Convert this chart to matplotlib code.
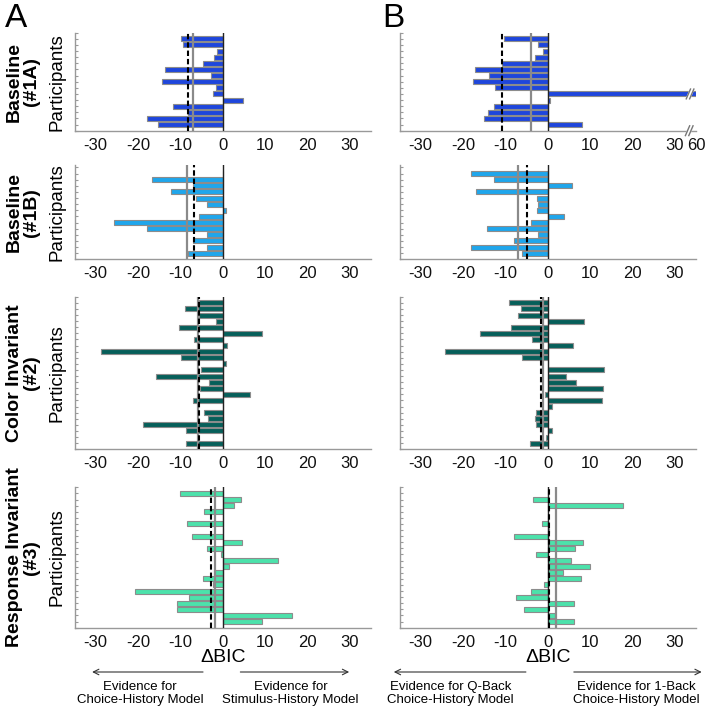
import matplotlib
matplotlib.use('Agg')
import matplotlib.pyplot as plt
import numpy as np

plt.rcParams['font.family'] = ['Liberation Sans', 'DejaVu Sans']

# delta BIC per participant, listed from the top row down
a_1a = [-9.9, -9.3, -1.3, -2.0, -4.7, -13.6, -2.7, -14.4, -1.6, -2.4, 4.7, -11.7, -8.1, -17.8, -15.2]
a_1b = [0.0, -16.8, -7.1, -12.1, -6.3, -3.8, 0.7, -5.7, -25.6, -18.0, -3.8, -7.1, -3.8, -8.2]
a_2 = [-5.7, -8.9, -5.7, -1.5, -10.4, 9.2, -6.9, 1.1, -28.8, -9.9, 0.7, -5.2, -15.7, -3.2,
       -5.4, 6.4, -7.0, 0.0, -4.4, -3.5, -18.9, -8.6, 0.0, -8.6]
a_3 = [-10.0, 4.2, 2.7, -4.5, 0.0, -8.5, 0.0, -7.2, 4.5, -3.7, -0.5, 13.0, 1.4, -2.0, -4.6,
       -2.4, -20.6, -7.9, -10.9, -10.9, 16.4, 9.3]

b_1a = [-10.3, -2.3, -1.2, -3.0, -10.8, -17.1, -13.8, -17.7, -12.4, 60.0, 0.55, -12.8, -14.2, -15.1, 8.0]
b_1b = [-18.1, -12.8, 5.7, -17.0, -2.5, -2.2, -2.5, 3.9, -3.9, -14.3, -2.4, -7.9, -18.1, -6.1]
b_2 = [-9.2, -6.2, -7.1, 8.5, -8.6, -15.9, -3.8, 5.9, -24.3, -6.1, 0.0, 13.2, 4.3, 6.7, 13.1,
       -0.6, 12.7, 1.0, -2.8, -3.0, -2.8, 1.0, -0.3, -4.1]
b_3 = [0.0, -3.6, 17.7, 0.0, 0.0, -1.3, 0.3, -8.0, 8.3, 6.4, -2.7, 5.4, 10.0, 3.5, 7.8,
       -0.9, -3.9, -7.5, 6.3, -5.5, 1.7, 6.1]

mean_a = [-7.1, -8.4, -5.9, -1.8]
median_a = [-8.1, -6.7, -5.5, -2.7]
mean_b = [-3.9, -7.1, -1.2, 1.9]
median_b = [-10.9, -5.0, -1.7, 0.2]

row_names = ['Baseline\n(#1A)', 'Baseline\n(#1B)', 'Color Invariant\n(#2)', 'Response Invariant\n(#3)']
bar_colors = ['#1e46dc', '#1fa6ec', '#065f5a', '#4ce2ab']
xticks = [-30, -20, -10, 0, 10, 20, 30]

data = [[a_1a, a_1b, a_2, a_3], [b_1a, b_1b, b_2, b_3]]
means = [mean_a, mean_b]
medians = [median_a, median_b]

W, H = 708, 710
fig = plt.figure(figsize=(W / 100, H / 100), dpi=100)

rows_px = [(32.7, 130.7), (165, 259.3), (296.7, 449.3), (487.3, 627.7)]
ytops = [16, 15.4, 25, 23]
cols_px = [(74.5, 371), (399.5, 696)]


def rect(x0, x1, top, bot):
    return [x0 / W, 1 - bot / H, (x1 - x0) / W, (bot - top) / H]


def squash(v):
    # axis break above 30: 60 is drawn at 35
    return v if v <= 30 else 30 + (v - 30) / 6.0


def slashes(ax, x, y):
    for dx in (-0.4, 0.4):
        ax.plot([x + dx - 0.5, x + dx + 0.5], [y - 0.8, y + 0.8], color='#777777',
                lw=1.0, clip_on=False, zorder=7)
    ax.fill([x - 0.4 - 0.5, x + 0.4 - 0.5, x + 0.4 + 0.5, x - 0.4 + 0.5],
            [y - 0.8, y - 0.8, y + 0.8, y + 0.8], color='white', clip_on=False, zorder=6)


for c in range(2):
    for r in range(4):
        ax = fig.add_axes(rect(*cols_px[c], *rows_px[r]))
        vals = data[c][r]
        n = len(vals)
        ypos = np.arange(n, 0, -1)
        shown = [squash(v) for v in vals] if (c == 1 and r == 0) else vals
        ax.barh(ypos, shown, height=0.82, color=bar_colors[r], edgecolor='#8c8c8c',
                linewidth=0.8, zorder=2)
        ax.axvline(0, color='#222222', lw=1.0, zorder=3)
        ax.axvline(means[c][r], color='#8a8a8a', lw=1.6, zorder=4)
        ax.axvline(medians[c][r], color='black', lw=1.5, ls=(0, (2.6, 1.4)), zorder=5)
        ax.set_xlim(-35, 35)
        ax.set_ylim(0, ytops[r])
        if c == 1 and r == 0:
            ax.set_xticks(xticks + [35])
            ax.set_xticklabels([str(t) for t in xticks] + ['60'])
            big = int(np.argmax(vals))
            slashes(ax, 33.6, ypos[big])
            slashes(ax, 33.4, 0)
        else:
            ax.set_xticks(xticks)
            ax.set_xticklabels([str(t) for t in xticks])
        ax.tick_params(axis='x', length=0, labelsize=12, pad=5, labelcolor='#111111')
        ax.set_yticks(np.arange(0, int(ytops[r]) + 1))
        ax.set_yticklabels([])
        ax.tick_params(axis='y', direction='in', length=2.5, color='#999999', width=0.8)
        for s in ['top', 'right']:
            ax.spines[s].set_visible(False)
        for s in ['left', 'bottom']:
            ax.spines[s].set_color('#999999')
            ax.spines[s].set_linewidth(1.0)
        if c == 0:
            ax.set_ylabel('Participants', fontsize=13.5, labelpad=3)
            ycen = 1 - (rows_px[r][0] + rows_px[r][1]) / 2 / H
            fig.text(23 / W, ycen, row_names[r], rotation=90, ha='center', va='center',
                     fontsize=14, fontweight='bold', linespacing=1.0, multialignment='center')
        if r == 3:
            ax.annotate('ΔBIC', xy=(0, 1 - 657 / H), xycoords=('data', 'figure fraction'),
                        ha='center', va='center', fontsize=14, annotation_clip=False)
            if c == 0:
                arrows = [(-4, -31.5), (3.5, 30.5)]
                notes = [(-19.5, 'Evidence for\nChoice-History Model'),
                         (16, 'Evidence for\nStimulus-History Model')]
            else:
                arrows = [(-4.5, -37), (5.5, 37)]
                notes = [(-23, 'Evidence for Q-Back\nChoice-History Model'),
                         (21, 'Evidence for 1-Back\nChoice-History Model')]
            for x0, x1 in arrows:
                ax.annotate('', xy=(x1, 1 - 672 / H), xytext=(x0, 1 - 672 / H),
                            xycoords=('data', 'figure fraction'),
                            textcoords=('data', 'figure fraction'),
                            arrowprops=dict(arrowstyle='->', color='#333333', lw=0.8),
                            annotation_clip=False)
            for xc, txt in notes:
                ax.annotate(txt, xy=(xc, 1 - 693.5 / H), xycoords=('data', 'figure fraction'),
                            ha='center', va='center', fontsize=9.5, linespacing=1.15,
                            annotation_clip=False)

fig.text(5 / W, 1 - 27 / H, 'A', fontsize=24, va='baseline')
fig.text(382 / W, 1 - 27 / H, 'B', fontsize=24, va='baseline')

fig.savefig('out.png', dpi=100)
